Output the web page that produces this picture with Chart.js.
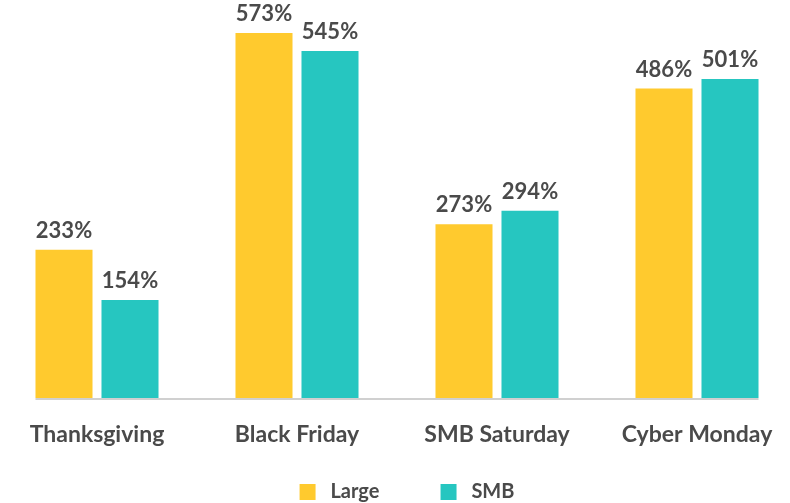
<!DOCTYPE html>
<html>
<head>
<meta charset="utf-8">
<script src="https://cdn.jsdelivr.net/npm/chart.js@4.4.1/dist/chart.umd.min.js"></script>
<style>
  html, body { margin: 0; padding: 0; background: #fff; overflow: hidden; }
  #wrap { width: 800px; height: 512px; position: relative; margin-left: -3px; }
</style>
</head>
<body>
<div id="wrap"><canvas id="myChart"></canvas></div>
<script>
// datos
const categorias = ['Thanksgiving', 'Black Friday', 'SMB Saturday', 'Cyber Monday'];
const serieLarge = [233, 573, 273, 486];
const serieSMB = [154, 545, 294, 501];
const nombresSeries = ['Large', 'SMB'];

const colorTexto = '#4a4a4a';
const fuente = 'Lato, "Open Sans", sans-serif';

// etiquetas con el valor sobre cada barra
const etiquetasValor = {
    id: 'etiquetasValor',
    afterDatasetsDraw(chart) {
        const ctx = chart.ctx;
        ctx.save();
        ctx.fillStyle = colorTexto;
        ctx.font = 'bold 22px ' + fuente;
        ctx.textAlign = 'center';
        ctx.textBaseline = 'alphabetic';
        chart.data.datasets.forEach((ds, i) => {
            chart.getDatasetMeta(i).data.forEach((bar, j) => {
                ctx.fillText(ds.data[j] + '%', bar.x, bar.y - 12);
            });
        });
        ctx.restore();
    }
};

// linea base gris solo bajo las barras
const lineaBase = {
    id: 'lineaBase',
    beforeDatasetsDraw(chart) {
        const barras = chart.getDatasetMeta(0).data;
        const ultimas = chart.getDatasetMeta(chart.data.datasets.length - 1).data;
        const primera = barras[0];
        const ultima = ultimas[ultimas.length - 1];
        const y = chart.scales.y.getPixelForValue(0);
        const ctx = chart.ctx;
        ctx.save();
        ctx.strokeStyle = '#d0d0d0';
        ctx.lineWidth = 2;
        ctx.beginPath();
        ctx.moveTo(primera.x - primera.width / 2, y + 1);
        ctx.lineTo(ultima.x + ultima.width / 2, y + 1);
        ctx.stroke();
        ctx.restore();
    }
};

// corro la leyenda un poco a la derecha
const moverLeyenda = {
    id: 'moverLeyenda',
    afterLayout(chart) {
        if (chart.legend) chart.legend.left += 20;
    }
};

const config = {
    type: 'bar',
    data: {
        labels: categorias,
        datasets: [
            // espacios para separar los items de la leyenda
            { label: ' ' + nombresSeries[0] + '      ', data: serieLarge, backgroundColor: '#FFCA2E' },
            { label: ' ' + nombresSeries[1], data: serieSMB, backgroundColor: '#26C6C0' }
        ]
    },
    options: {
        responsive: true,
        maintainAspectRatio: false,
        animation: false,
        categoryPercentage: 0.66,
        barPercentage: 0.864,
        layout: { padding: 0 },
        plugins: {
            legend: {
                position: 'bottom',
                labels: {
                    boxWidth: 16,
                    boxHeight: 16,
                    padding: 32,
                    color: colorTexto,
                    font: { family: fuente, size: 20, weight: 'bold' }
                }
            },
            tooltip: { enabled: false }
        },
        scales: {
            x: {
                grid: { display: false },
                border: { display: false },
                afterFit(scale) { scale.height = 52; },
                ticks: {
                    color: colorTexto,
                    padding: 15,
                    font: { family: fuente, size: 23, weight: 'bold' }
                }
            },
            y: {
                display: false,
                min: 0,
                max: 625
            }
        }
    },
    plugins: [etiquetasValor, lineaBase, moverLeyenda]
};

new Chart(document.getElementById('myChart'), config);
</script>
</body>
</html>
